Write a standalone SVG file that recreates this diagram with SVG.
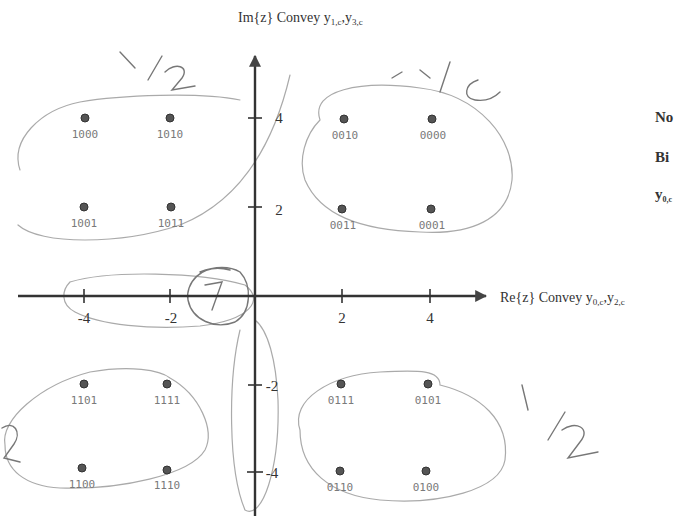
<svg xmlns="http://www.w3.org/2000/svg" width="690" height="524" viewBox="0 0 690 524">
<defs>
<style>
.ax{stroke:#333;stroke-width:2.4;fill:none}
.tk{stroke:#333;stroke-width:1.6}
.dot{fill:#555;stroke:#333;stroke-width:1}
.lbl{font-family:"DejaVu Sans Mono","Liberation Mono",monospace;font-size:11px;fill:#7a7a7a;text-anchor:middle}
.num{font-family:"Liberation Serif",serif;font-size:15px;fill:#333;text-anchor:middle}
.cap{font-family:"Liberation Serif",serif;font-size:14px;fill:#333}
.side{font-family:"Liberation Serif",serif;font-size:15px;font-weight:bold;fill:#333}
.hw{stroke:#aaa;stroke-width:1.2;fill:none;stroke-linecap:round}
.hwd{stroke:#777;stroke-width:1.4;fill:none;stroke-linecap:round}
</style>
<marker id="ah" viewBox="0 0 10 10" refX="9" refY="5" markerWidth="5" markerHeight="5" orient="auto">
<path d="M0,0 L10,5 L0,10 z" fill="#444"/>
</marker>
</defs>
<rect width="690" height="524" fill="#fff"/>

<g id="annotations">
<path class="hw" d="M20,170 C10,140 40,110 80,102 C120,95 200,92 240,100"/>
<path class="hw" d="M18,225 C40,245 120,245 180,225 C230,205 270,160 290,75"/>
<path class="hw" d="M320,120 C310,90 360,80 420,88 C480,95 515,140 512,180 C508,220 470,235 420,232 C360,230 320,215 305,180 C298,160 305,135 320,120"/>
<path class="hw" d="M70,282 C110,270 200,272 245,285 C265,300 250,320 200,326 C150,330 100,325 75,312 C60,304 62,290 70,282"/>
<path class="hwd" d="M230,270 C200,262 185,285 188,300 C192,320 215,330 235,322 C252,312 252,285 240,272 C230,266 215,266 200,272"/>
<path class="hwd" d="M205,285 L222,282 L212,310"/>
<path class="hw" d="M240,330 C228,380 228,470 245,510 C262,520 280,470 278,400 C276,360 268,330 255,320"/>
<path class="hw" d="M5,445 C0,420 40,385 90,372 C130,365 160,370 170,378 C200,395 215,430 205,450 C190,475 120,490 60,488 C25,486 5,470 5,445"/>
<path class="hw" d="M300,430 C290,400 330,375 380,372 C420,370 440,370 440,385 C480,395 510,420 505,460 C500,490 440,505 380,500 C330,495 300,470 300,430"/>
<path class="hwd" d="M120,52 L135,68"/>
<path class="hwd" d="M148,80 L162,56"/>
<path class="hwd" d="M165,72 C175,62 190,66 182,78 L172,90 L195,86"/>
<path class="hwd" d="M392,78 L402,72"/>
<path class="hwd" d="M420,70 L430,78"/>
<path class="hwd" d="M440,92 L450,62"/>
<path class="hwd" d="M478,80 C465,84 462,98 475,100 C488,102 496,96 500,92"/>
<path class="hwd" d="M522,385 L528,410"/>
<path class="hwd" d="M548,440 L565,412"/>
<path class="hwd" d="M562,430 C575,420 592,428 580,442 L568,458 L598,452"/>
<path class="hwd" d="M2,428 C14,420 22,432 14,444 L4,458 L20,462"/>
</g>

<g id="connectors">
<line class="ax" x1="18" y1="296" x2="486" y2="296" marker-end="url(#ah)"/>
<line class="ax" x1="255" y1="516" x2="255" y2="56" marker-end="url(#ah)"/>
<line class="tk" x1="84" y1="289" x2="84" y2="303"/>
<line class="tk" x1="170" y1="289" x2="170" y2="303"/>
<line class="tk" x1="342" y1="289" x2="342" y2="303"/>
<line class="tk" x1="430" y1="289" x2="430" y2="303"/>
<line class="tk" x1="248" y1="118" x2="262" y2="118"/>
<line class="tk" x1="248" y1="207" x2="262" y2="207"/>
<line class="tk" x1="248" y1="385" x2="262" y2="385"/>
<line class="tk" x1="247" y1="472" x2="263" y2="472"/>
</g>

<g id="axis-labels">
<text class="num" x="84" y="323">-4</text>
<text class="num" x="171" y="323">-2</text>
<text class="num" x="342" y="323">2</text>
<text class="num" x="430" y="323">4</text>
<text class="num" x="279" y="123">4</text>
<text class="num" x="279" y="215">2</text>
<text class="num" x="272" y="391">-2</text>
<text class="num" x="272" y="478">-4</text>
<text class="cap" x="238" y="22">Im{z}  Convey y<tspan font-size="9" dy="3">1,c</tspan><tspan dy="-3">,y</tspan><tspan font-size="9" dy="3">3,c</tspan></text>
<text class="cap" x="500" y="302">Re{z}  Convey y<tspan font-size="9" dy="3">0,c</tspan><tspan dy="-3">,y</tspan><tspan font-size="9" dy="3">2,c</tspan></text>
<text class="side" x="655" y="122">No</text>
<text class="side" x="655" y="162">Bi</text>
<text class="side" x="655" y="199">y<tspan font-size="8" dy="3">0,c</tspan></text>
</g>

<g id="n1000"><circle class="dot" cx="85" cy="118" r="4"/><text class="lbl" x="85" y="138">1000</text></g>
<g id="n1010"><circle class="dot" cx="170" cy="118" r="4"/><text class="lbl" x="170" y="138">1010</text></g>
<g id="n1001"><circle class="dot" cx="84" cy="207" r="4"/><text class="lbl" x="84" y="227">1001</text></g>
<g id="n1011"><circle class="dot" cx="171" cy="207" r="4"/><text class="lbl" x="171" y="227">1011</text></g>
<g id="n0010"><circle class="dot" cx="344" cy="119" r="4"/><text class="lbl" x="345" y="139">0010</text></g>
<g id="n0000"><circle class="dot" cx="432" cy="119" r="4"/><text class="lbl" x="433" y="139">0000</text></g>
<g id="n0011"><circle class="dot" cx="342" cy="209" r="4"/><text class="lbl" x="343" y="229">0011</text></g>
<g id="n0001"><circle class="dot" cx="431" cy="209" r="4"/><text class="lbl" x="432" y="229">0001</text></g>
<g id="n1101"><circle class="dot" cx="84" cy="384" r="4"/><text class="lbl" x="84" y="404">1101</text></g>
<g id="n1111"><circle class="dot" cx="167" cy="384" r="4"/><text class="lbl" x="167" y="404">1111</text></g>
<g id="n1100"><circle class="dot" cx="82" cy="468" r="4"/><text class="lbl" x="82" y="488">1100</text></g>
<g id="n1110"><circle class="dot" cx="167" cy="470" r="4"/><text class="lbl" x="167" y="489">1110</text></g>
<g id="n0111"><circle class="dot" cx="341" cy="384" r="4"/><text class="lbl" x="341" y="404">0111</text></g>
<g id="n0101"><circle class="dot" cx="428" cy="384" r="4"/><text class="lbl" x="428" y="404">0101</text></g>
<g id="n0110"><circle class="dot" cx="340" cy="471" r="4"/><text class="lbl" x="340" y="491">0110</text></g>
<g id="n0100"><circle class="dot" cx="426" cy="471" r="4"/><text class="lbl" x="426" y="491">0100</text></g>
</svg>
